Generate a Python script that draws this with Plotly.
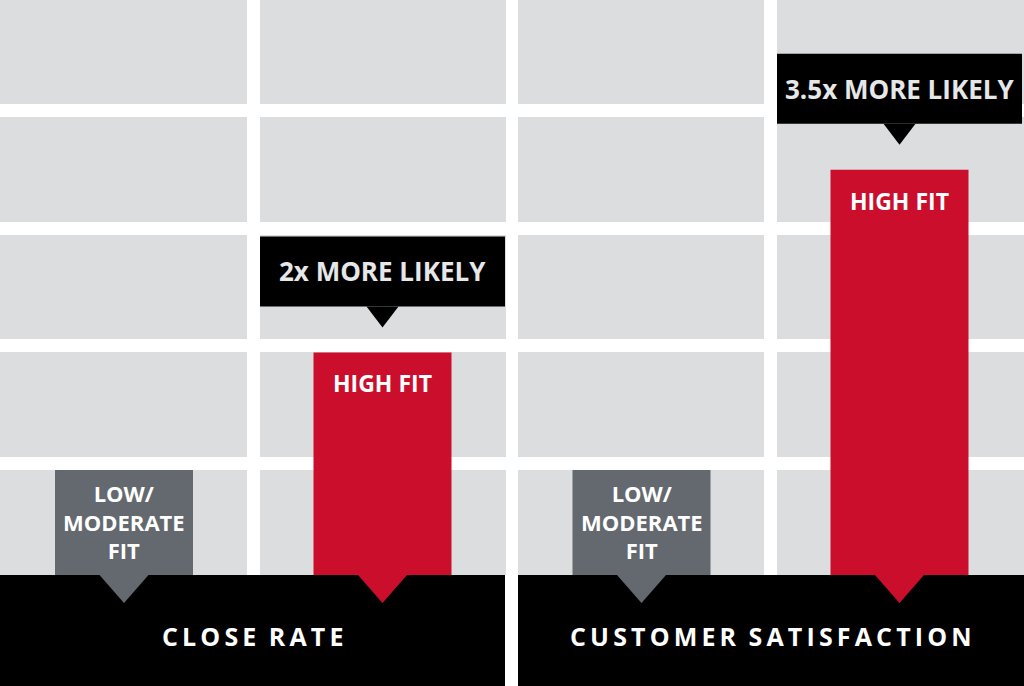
import plotly.graph_objects as go

# values (bar heights relative to the low/moderate fit bar)
panels = ["CLOSE RATE", "CUSTOMER SATISFACTION"]
low_fit = [1.0, 1.0]
high_fit = [2.12, 3.86]
low_label = "LOW/<br>MODERATE<br>FIT"
high_label = "HIGH FIT"
callouts = ["2x MORE LIKELY", "3.5x MORE LIKELY"]

# layout (pixels)
W, H = 1024, 686
BASE = 575          # pixel row of the baseline
PX = 105            # pixels per unit
low_x = [124, 641.5]
high_x = [382.5, 899.5]
BAR_W = 138
GRAY_CELL = "#dcdddf"
RED = "#cc0e2d"
SLATE = "#63696e"
FONT = "Open Sans"


def yv(p):
    """pixel row -> y value"""
    return (BASE - p) / PX


def spaced(s):
    return "\u2009".join(s).replace("\u2009 \u2009", "\u2009\u2009\u2009")


fig = go.Figure()
fig.add_trace(go.Bar(x=low_x, y=low_fit, width=BAR_W, marker=dict(color=SLATE, line_width=0),
                     hoverinfo="skip"))
fig.add_trace(go.Bar(x=high_x, y=high_fit, width=BAR_W, marker=dict(color=RED, line_width=0),
                     hoverinfo="skip"))

shapes = []
# background grid
cols = [(0, 247), (260, 506), (518, 764), (777, 1024)]
rows = [(0, 104), (117, 222), (235, 339), (352, 457), (470, 575)]
for x0, x1 in cols:
    for r0, r1 in rows:
        shapes.append(dict(type="rect", layer="below", x0=x0, x1=x1, y0=yv(r1), y1=yv(r0),
                           fillcolor=GRAY_CELL, line_width=0))

# black footers
for x0, x1 in [(0, 505), (518, 1024)]:
    shapes.append(dict(type="rect", layer="above", x0=x0, x1=x1, y0=yv(H), y1=0,
                       fillcolor="black", line_width=0))

# pointers under the bars
tip = -28 / PX
for xs, col in [(low_x, SLATE), (high_x, RED)]:
    for x in xs:
        shapes.append(dict(type="path", layer="above",
                           path=f"M {x-24.5},0 L {x+24.5},0 L {x},{tip} Z",
                           fillcolor=col, line_width=0))

annotations = []
for i, (x, v) in enumerate(zip(high_x, high_fit)):
    b0, b1, t = v + 46 / PX, v + 116 / PX, v + 25 / PX
    shapes.append(dict(type="rect", layer="above", x0=x - 122.5, x1=x + 122.5, y0=b0, y1=b1,
                       fillcolor="black", line_width=0))
    shapes.append(dict(type="path", layer="above",
                       path=f"M {x-16},{b0} L {x+16},{b0} L {x},{t} Z",
                       fillcolor="black", line_width=0))
    annotations.append(dict(x=x, y=(b0 + b1) / 2, text=callouts[i], showarrow=False,
                            font=dict(family=FONT, size=26, color="#e6e7e8", weight="bold")))
    annotations.append(dict(x=x, y=v - 31 / PX, text=high_label, showarrow=False,
                            font=dict(family=FONT, size=23, color="white", weight="bold")))

for x, v in zip(low_x, low_fit):
    annotations.append(dict(x=x, y=v / 2 + 1 / PX, text=low_label, showarrow=False,
                            font=dict(family=FONT, size=22, color="white", weight="bold")))

for x0, x1, name in [(0, 505, panels[0]), (518, 1024, panels[1])]:
    annotations.append(dict(x=(x0 + x1) / 2, y=yv(636), text=spaced(name), showarrow=False,
                            font=dict(family=FONT, size=25, color="white", weight="bold")))

fig.update_layout(
    width=W, height=H, margin=dict(l=0, r=0, t=0, b=0),
    paper_bgcolor="white", plot_bgcolor="white",
    showlegend=False, barmode="overlay",
    shapes=shapes, annotations=annotations,
    xaxis=dict(range=[0, W], visible=False, fixedrange=True),
    yaxis=dict(range=[yv(H), yv(0)], visible=False, fixedrange=True),
)
fig.write_html("out.html", config={"displayModeBar": False},
               post_script="document.body.style.margin = '0';")
